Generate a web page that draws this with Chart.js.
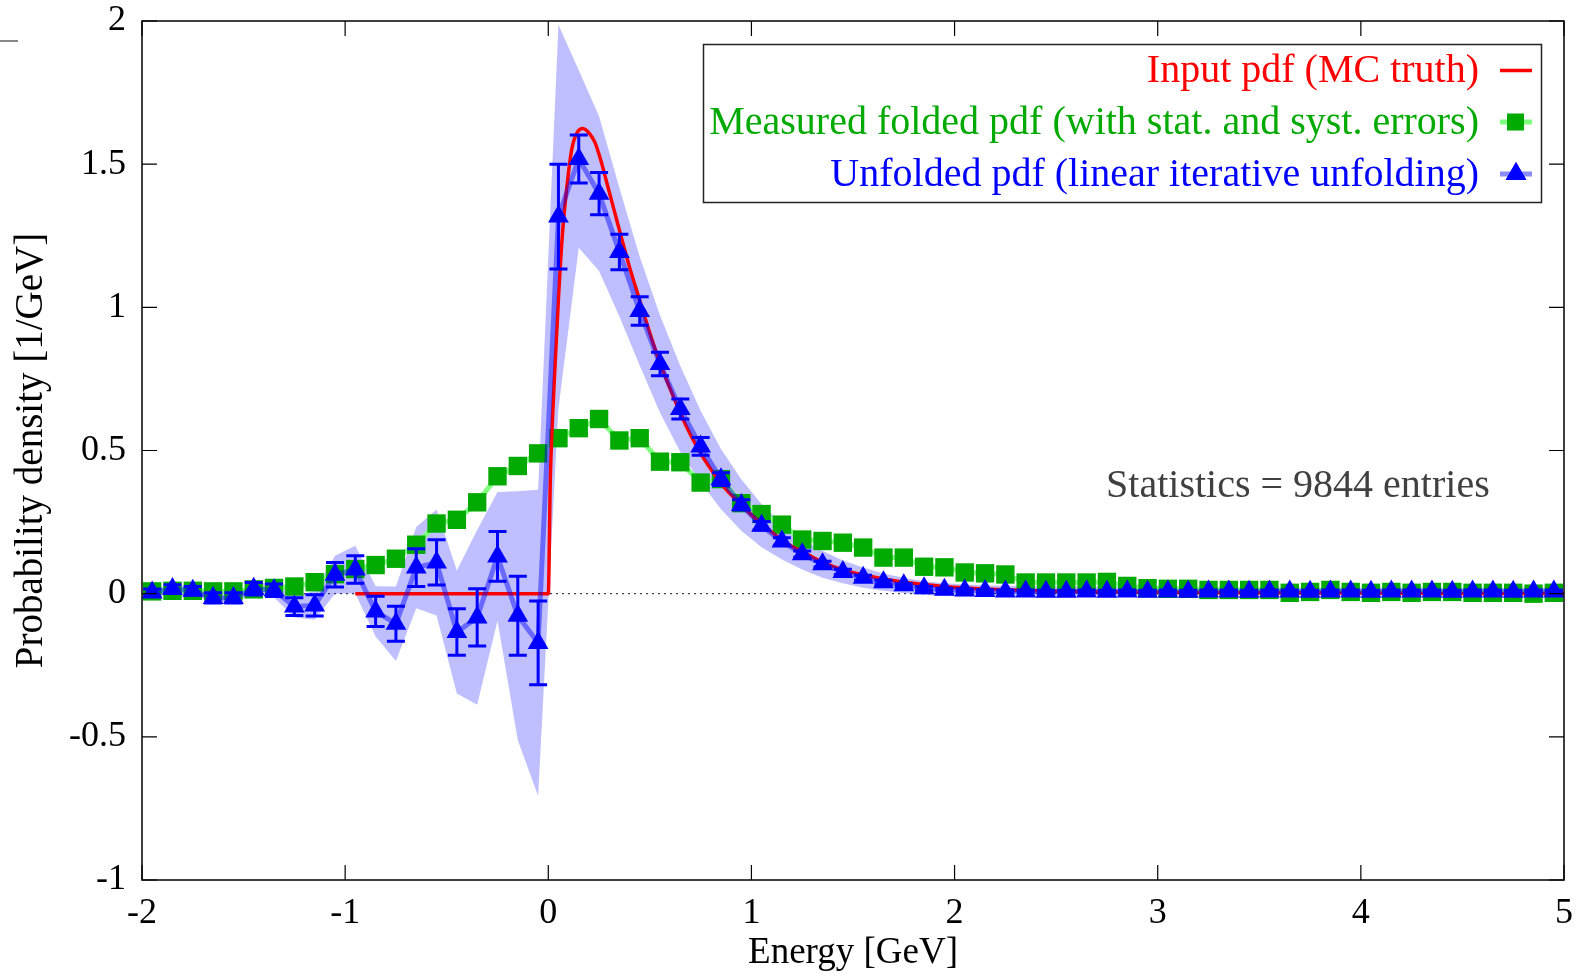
<!DOCTYPE html>
<html>
<head>
<meta charset="UTF-8">
<title>Unfolded pdf</title>
<script src="https://cdn.jsdelivr.net/npm/chart.js@4.4.0/dist/chart.umd.min.js"></script>
<style>
  body { margin: 0; background: #fff; }
  canvas { display: block; }
</style>
</head>
<body>
<canvas id="chart" width="1578" height="974"></canvas>
<script>
// bin centres (GeV)
var binCenters = [-1.95,-1.85,-1.75,-1.65,-1.55,-1.45,-1.35,-1.25,-1.15,-1.05,
  -0.95,-0.85,-0.75,-0.65,-0.55,-0.45,-0.35,-0.25,-0.15,-0.05,
  0.05,0.15,0.25,0.35,0.45,0.55,0.65,0.75,0.85,0.95,
  1.05,1.15,1.25,1.35,1.45,1.55,1.65,1.75,1.85,1.95,
  2.05,2.15,2.25,2.35,2.45,2.55,2.65,2.75,2.85,2.95,
  3.05,3.15,3.25,3.35,3.45,3.55,3.65,3.75,3.85,3.95,
  4.05,4.15,4.25,4.35,4.45,4.55,4.65,4.75,4.85,4.95];

// measured folded pdf
var measured = [0.008,0.01,0.01,0.008,0.008,0.015,0.02,0.025,0.04,0.068,
  0.086,0.1,0.122,0.171,0.245,0.258,0.319,0.41,0.446,0.49,
  0.543,0.578,0.61,0.535,0.543,0.461,0.459,0.388,0.4,0.316,
  0.278,0.241,0.189,0.184,0.178,0.161,0.126,0.126,0.094,0.092,
  0.074,0.071,0.067,0.039,0.039,0.039,0.039,0.041,0.027,0.019,
  0.017,0.017,0.013,0.013,0.013,0.013,0.003,0.006,0.013,0.006,
  0.003,0.006,0.003,0.006,0.006,0.003,0.003,0.003,0.0,0.003];

// unfolded pdf and its errors
var unfolded = [0.004,0.016,0.01,-0.015,-0.015,0.017,0.012,-0.045,-0.041,0.066,
  0.084,-0.062,-0.105,0.091,0.109,-0.134,-0.083,0.13,-0.077,-0.172,
  1.317,1.518,1.397,1.193,0.987,0.802,0.645,0.514,0.4,0.31,
  0.237,0.182,0.138,0.103,0.076,0.056,0.04,0.029,0.019,0.014,
  0.011,0.009,0.008,0.008,0.007,0.007,0.008,0.007,0.008,0.007,
  0.008,0.007,0.008,0.008,0.007,0.008,0.008,0.007,0.008,0.008,
  0.007,0.008,0.008,0.008,0.007,0.008,0.008,0.007,0.008,0.008];

var statErr = [0.012,0.015,0.015,0.018,0.018,0.022,0.022,0.031,0.037,0.043,
  0.048,0.053,0.061,0.066,0.079,0.081,0.1,0.087,0.138,0.146,
  0.183,0.084,0.074,0.062,0.05,0.041,0.035,0.031,0.022,0.018,
  0.015,0.013,0.011,0.01,0.009,0.008,0.007,0.006,0.006,0.005,
  0.005,0.005,0.005,0.005,0.005,0.005,0.005,0.005,0.005,0.005,
  0.005,0.005,0.005,0.005,0.005,0.005,0.005,0.005,0.005,0.005,
  0.005,0.005,0.005,0.005,0.005,0.005,0.005,0.005,0.005,0.005];

var bandErr = [0.014,0.014,0.014,0.016,0.016,0.02,0.025,0.038,0.05,0.066,
  0.083,0.088,0.13,0.142,0.185,0.215,0.305,0.225,0.435,0.535,
  0.67,0.31,0.27,0.225,0.19,0.17,0.15,0.125,0.105,0.09,
  0.075,0.063,0.054,0.047,0.04,0.035,0.03,0.027,0.024,0.022,
  0.021,0.02,0.02,0.02,0.02,0.019,0.018,0.017,0.016,0.015,
  0.014,0.014,0.014,0.014,0.014,0.014,0.014,0.014,0.014,0.014,
  0.014,0.014,0.014,0.014,0.014,0.014,0.014,0.014,0.014,0.014];

// input pdf (MC truth) curve
var truthX = [-0.95,0,0.01,0.02,0.03,0.05,0.07,0.093,0.115,0.14,
  0.17,0.205,0.23,0.26,0.29,0.32,0.35,0.4,0.45,0.5,
  0.55,0.6,0.65,0.7,0.75,0.8,0.85,0.9,0.95,1.0,
  1.05,1.1,1.15,1.2,1.25,1.3,1.35,1.45,1.55,1.65,
  1.75,1.85,1.95,2.15,2.35,2.55,2.8,3.1,3.5,4.0,4.5,5.0];
var truthY = [0,0,0.4,0.6,0.75,1.03,1.26,1.43,1.55,1.608,
  1.625,1.605,1.575,1.51,1.43,1.35,1.27,1.14,1.025,0.91,
  0.805,0.715,0.63,0.555,0.49,0.435,0.385,0.345,0.31,0.275,
  0.245,0.215,0.188,0.165,0.147,0.128,0.11,0.083,0.066,0.051,
  0.04,0.032,0.025,0.016,0.011,0.008,0.006,0.004,0.003,0.002,0.001,0.001];

var xTicks = [-2,-1,0,1,2,3,4,5];
var yTicks = [-1,-0.5,0,0.5,1,1.5,2];

var FONT = 'Liberation Serif';
var RED = '#ff0000', GREEN = '#00aa00', GREEN_LINE = '#80ff80', BLUE = '#0000ff';
var BLUE_LINE = 'rgba(0,0,255,0.45)';

function pts(xs, ys) {
  return xs.map(function(x, i) { return {x: x, y: ys[i]}; });
}

var decor = {
  id: 'decor',
  beforeDatasetsDraw: function(chart) {
    var ctx = chart.ctx, a = chart.chartArea, y = chart.scales.y;
    var y0 = y.getPixelForValue(0);
    ctx.save();
    ctx.strokeStyle = '#444';
    ctx.lineWidth = 1.2;
    ctx.setLineDash([2, 4]);
    ctx.beginPath();
    ctx.moveTo(a.left, y0);
    ctx.lineTo(a.right, y0);
    ctx.stroke();
    ctx.restore();
  },
  afterDatasetsDraw: function(chart) {
    // error bars on the unfolded points
    var ctx = chart.ctx, x = chart.scales.x, y = chart.scales.y;
    ctx.save();
    ctx.strokeStyle = BLUE;
    ctx.lineWidth = 3;
    for (var i = 0; i < binCenters.length; i++) {
      var px = x.getPixelForValue(binCenters[i]);
      var lo = y.getPixelForValue(unfolded[i] - statErr[i]);
      var hi = y.getPixelForValue(unfolded[i] + statErr[i]);
      ctx.beginPath();
      ctx.moveTo(px, lo); ctx.lineTo(px, hi);
      ctx.moveTo(px - 9, lo); ctx.lineTo(px + 9, lo);
      ctx.moveTo(px - 9, hi); ctx.lineTo(px + 9, hi);
      ctx.stroke();
    }
    ctx.restore();
  },
  afterDraw: function(chart) {
    var ctx = chart.ctx, a = chart.chartArea, x = chart.scales.x, y = chart.scales.y;
    ctx.save();
    // frame and inner ticks on all four sides
    ctx.strokeStyle = '#000';
    ctx.lineWidth = 1.5;
    ctx.strokeRect(a.left, a.top, a.right - a.left, a.bottom - a.top);
    ctx.lineWidth = 1.2;
    ctx.beginPath();
    xTicks.forEach(function(v) {
      var px = x.getPixelForValue(v);
      ctx.moveTo(px, a.bottom); ctx.lineTo(px, a.bottom - 15);
      ctx.moveTo(px, a.top); ctx.lineTo(px, a.top + 15);
    });
    yTicks.forEach(function(v) {
      var py = y.getPixelForValue(v);
      ctx.moveTo(a.left, py); ctx.lineTo(a.left + 15, py);
      ctx.moveTo(a.right, py); ctx.lineTo(a.right - 15, py);
    });
    ctx.stroke();

    // small grey mark in the top left corner
    ctx.strokeStyle = '#888';
    ctx.lineWidth = 2;
    ctx.beginPath(); ctx.moveTo(0, 41); ctx.lineTo(18, 41); ctx.stroke();

    // statistics note
    ctx.fillStyle = '#404040';
    ctx.font = '40px "' + FONT + '"';
    ctx.textAlign = 'center';
    ctx.textBaseline = 'middle';
    ctx.fillText('Statistics = 9844 entries', x.getPixelForValue(3.69), y.getPixelForValue(0.373));

    // legend
    var bx = 703.5, by = 44.5, bw = 838, bh = 158;
    ctx.fillStyle = '#fff';
    ctx.fillRect(bx, by, bw, bh);
    ctx.strokeStyle = '#222';
    ctx.lineWidth = 1.5;
    ctx.strokeRect(bx, by, bw, bh);
    var rows = [
      {text: 'Input pdf (MC truth)', color: RED, y: 70.5},
      {text: 'Measured folded pdf (with stat. and syst. errors)', color: GREEN, y: 122},
      {text: 'Unfolded pdf (linear iterative unfolding)', color: BLUE, y: 174}
    ];
    ctx.textAlign = 'right';
    rows.forEach(function(r, i) {
      ctx.fillStyle = r.color;
      ctx.fillText(r.text, 1479, r.y + 1);
      ctx.lineWidth = i === 0 ? 3.5 : 5;
      ctx.strokeStyle = i === 0 ? RED : (i === 1 ? GREEN_LINE : BLUE_LINE);
      ctx.beginPath(); ctx.moveTo(1500, r.y); ctx.lineTo(1532, r.y); ctx.stroke();
    });
    ctx.fillStyle = GREEN;
    ctx.fillRect(1507, rows[1].y - 8.5, 17, 17);
    ctx.fillStyle = BLUE;
    ctx.beginPath();
    Chart.helpers.drawPoint(ctx, {pointStyle: 'triangle', radius: 12, borderWidth: 0}, 1516, rows[2].y);
    ctx.fill();
    ctx.restore();
  }
};

var bandHigh = unfolded.map(function(v, i) { return v + bandErr[i]; });
var bandLow = unfolded.map(function(v, i) { return v - bandErr[i]; });

var ctx = document.getElementById('chart').getContext('2d');
var myChart = new Chart(ctx, {
  type: 'line',
  data: {
    datasets: [{
      label: 'band high',
      data: pts(binCenters, bandHigh),
      borderWidth: 0,
      pointRadius: 0,
      fill: false,
      order: 10
    }, {
      label: 'band low',
      data: pts(binCenters, bandLow),
      borderWidth: 0,
      pointRadius: 0,
      backgroundColor: 'rgba(0,0,255,0.25)',
      fill: '-1',
      order: 9
    }, {
      label: 'Measured folded pdf (with stat. and syst. errors)',
      data: pts(binCenters, measured),
      borderColor: GREEN_LINE,
      borderWidth: 5,
      pointStyle: 'rect',
      pointRadius: 13,
      pointBackgroundColor: GREEN,
      pointBorderWidth: 0,
      fill: false,
      order: 5
    }, {
      label: 'Input pdf (MC truth)',
      data: pts(truthX, truthY),
      borderColor: RED,
      borderWidth: 3.5,
      pointRadius: 0,
      cubicInterpolationMode: 'monotone',
      fill: false,
      order: 4
    }, {
      label: 'Unfolded pdf (linear iterative unfolding)',
      data: pts(binCenters, unfolded),
      borderColor: BLUE_LINE,
      borderWidth: 5,
      pointStyle: 'triangle',
      pointRadius: 12,
      pointBackgroundColor: BLUE,
      pointBorderWidth: 0,
      fill: false,
      order: 3
    }]
  },
  options: {
    responsive: false,
    animation: false,
    layout: { padding: { top: 21, right: 14, left: 0, bottom: 0 } },
    plugins: {
      legend: { display: false },
      tooltip: { enabled: false }
    },
    scales: {
      x: {
        type: 'linear',
        min: -2,
        max: 5,
        afterBuildTicks: function(s) { s.ticks = xTicks.map(function(v) { return {value: v}; }); },
        afterFit: function(s) { s.height = 94; s.paddingLeft = 0; s.paddingRight = 0; },
        grid: { display: false, drawTicks: false },
        border: { display: false },
        ticks: {
          font: { family: FONT, size: 36 },
          color: '#000',
          padding: 12,
          maxRotation: 0,
          autoSkip: false,
          callback: function(v) { return String(v); }
        },
        title: {
          display: true,
          text: 'Energy [GeV]',
          font: { family: FONT, size: 37 },
          color: '#000',
          padding: { top: 0, bottom: -1 }
        }
      },
      y: {
        type: 'linear',
        min: -1,
        max: 2,
        afterBuildTicks: function(s) { s.ticks = yTicks.map(function(v) { return {value: v}; }); },
        afterFit: function(s) { s.width = 142; s.paddingTop = 0; s.paddingBottom = 0; },
        grid: { display: false, drawTicks: false },
        border: { display: false },
        ticks: {
          font: { family: FONT, size: 36 },
          color: '#000',
          padding: 16,
          autoSkip: false,
          callback: function(v) { return String(v); }
        },
        title: {
          display: true,
          text: 'Probability density [1/GeV]',
          font: { family: FONT, size: 39 },
          color: '#000',
          padding: { top: 8, bottom: 0 }
        }
      }
    }
  },
  plugins: [decor]
});
</script>
</body>
</html>
